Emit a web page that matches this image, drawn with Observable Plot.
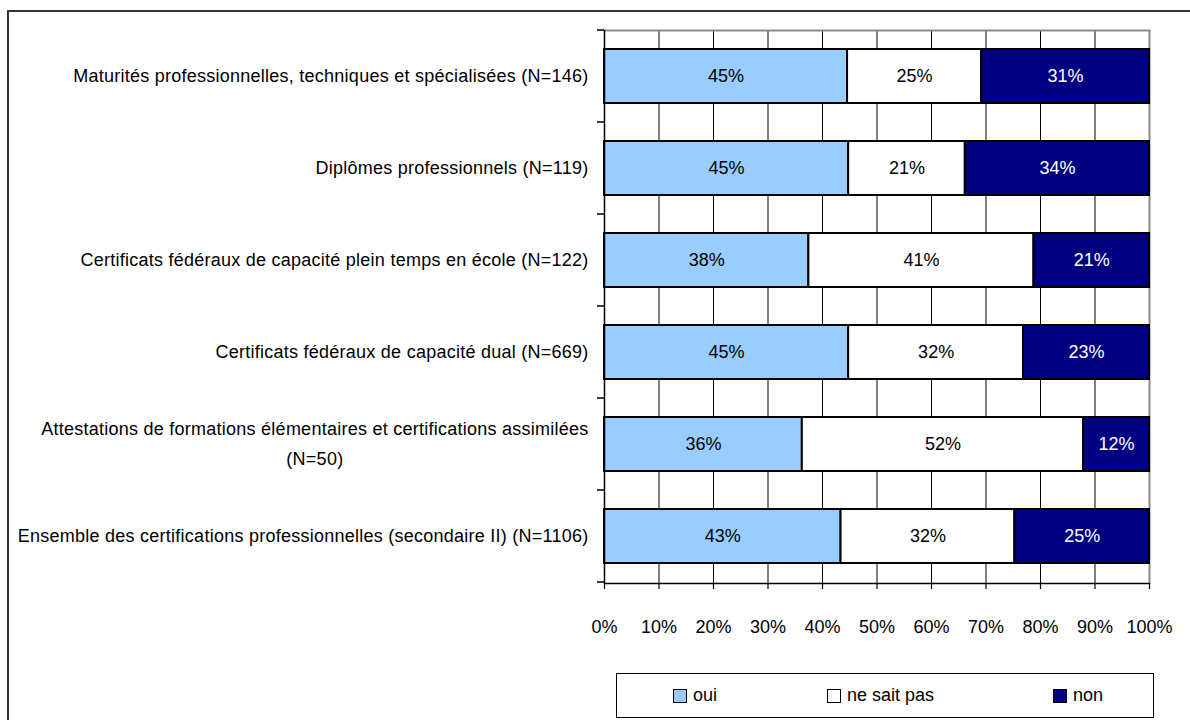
<!DOCTYPE html>
<html>
<head>
<meta charset="utf-8">
<script src="https://cdn.jsdelivr.net/npm/d3@7"></script>
<script src="https://cdn.jsdelivr.net/npm/@observablehq/plot@0.6"></script>
<style>
  body { margin: 0; background: #fff; font-family: "Liberation Sans", Arial, sans-serif; }
  #wrap { position: relative; width: 1190px; height: 720px; overflow: hidden; background: #fff; }
  #frame { position: absolute; left: 7px; top: 10px; width: 1400px; height: 900px;
           border-left: 2px solid #333; border-top: 2px solid #333; }
  #chart { position: absolute; left: 0; top: 0; }
  #legend { position: absolute; left: 616px; top: 673px; width: 538px; height: 45px;
            border: 1px solid #000; box-sizing: border-box; background: #fff; font-size: 18px; color: #000; }
  .item { position: absolute; top: 0; height: 43px; display: flex; align-items: center; white-space: nowrap; }
  .sw { display: inline-block; width: 12px; height: 12px; border: 1px solid #000; margin-right: 6px; }
</style>
</head>
<body>
<div id="wrap">
  <div id="frame"></div>
  <div id="chart"></div>
  <div id="legend"></div>
</div>
<script>
// ---- data ----
const categoryLines = [
  ["Maturités professionnelles, techniques et spécialisées (N=146)"],
  ["Diplômes professionnels (N=119)"],
  ["Certificats fédéraux de capacité plein temps en école (N=122)"],
  ["Certificats fédéraux de capacité dual (N=669)"],
  ["Attestations de formations élémentaires et certifications assimilées", "(N=50)"],
  ["Ensemble des certifications professionnelles (secondaire II) (N=1106)"]
];
const categories = categoryLines.map(l => l.join(" "));
const seriesNames = ["oui", "ne sait pas", "non"];
const seriesColors = ["#99ccff", "#ffffff", "#000080"];
const oui =       [44.6, 44.8, 37.5, 44.8, 36.3, 43.4];
const neSaitPas = [24.6, 21.4, 41.3, 32.1, 51.6, 31.9];
const non =       [30.8, 33.8, 21.2, 23.1, 12.1, 24.7];
const xTicks = [0, 10, 20, 30, 40, 50, 60, 70, 80, 90, 100];

// ---- build table ----
const seriesValues = [oui, neSaitPas, non];
const rows = [];
categories.forEach((cat, i) => {
  let acc = 0;
  seriesNames.forEach((s, k) => {
    const v = seriesValues[k][i];
    rows.push({cat, series: s, value: v, x1: acc, x2: acc + v});
    acc += v;
  });
});

const FONT = '"Liberation Sans", Arial, sans-serif';
const FS = 18;
const LS = 0.25; // letter spacing of the category labels
const ctx = document.createElement("canvas").getContext("2d");
ctx.font = FS + "px " + FONT;

const labelStyle = {frameAnchor: "left", fill: "#000", fontSize: FS};
const labelMarks = [];
categoryLines.forEach((lines, i) => {
  const cat = categories[i];
  if (lines.length === 1) {
    labelMarks.push(Plot.text([cat], {...labelStyle, y: d => d, text: () => lines[0], textAnchor: "end", dx: -16}));
  } else {
    const w = ctx.measureText(lines[0]).width + LS * lines[0].length;
    labelMarks.push(Plot.text([cat], {...labelStyle, y: d => d, text: () => lines[0], textAnchor: "end", dx: -16, dy: -15}));
    labelMarks.push(Plot.text([cat], {...labelStyle, y: d => d, text: () => lines[1], textAnchor: "middle", dx: -16 - w / 2, dy: 15}));
  }
});

const pct = d => Math.round(d.value) + "%";

const plot = Plot.plot({
  width: 1190,
  height: 720,
  marginLeft: 604,
  marginRight: 41,
  marginTop: 30,
  marginBottom: 137,
  style: {fontFamily: FONT, fontSize: FS + "px", background: "transparent", color: "#000"},
  x: {domain: [0, 100], axis: null},
  y: {domain: categories, paddingInner: 0.41, paddingOuter: 0.205, axis: null},
  color: {domain: seriesNames, range: seriesColors},
  marks: [
    Plot.ruleX(xTicks.slice(1, -1), {stroke: "#000", strokeWidth: 1}),
    Plot.ruleX([100], {stroke: "#8c8c8c", strokeWidth: 2}),
    Plot.frame({anchor: "top", stroke: "#8c8c8c", strokeWidth: 2}),
    Plot.barX(rows, {x1: "x1", x2: "x2", y: "cat", fill: "series", stroke: "#000", strokeWidth: 2}),
    Plot.text(rows.filter(d => d.series !== "non"), {x: d => (d.x1 + d.x2) / 2, y: "cat", text: pct, fill: "#000", fontSize: FS}),
    Plot.text(rows.filter(d => d.series === "non"), {x: d => (d.x1 + d.x2) / 2, y: "cat", text: pct, fill: "#fff", fontSize: FS}),
    Plot.axisX({ticks: xTicks, tickSize: 6, tickPadding: 31, tickFormat: d => d + "%", fontSize: FS, stroke: "#000", strokeWidth: 1.2}),
    Plot.frame({anchor: "bottom", stroke: "#000", strokeWidth: 1.5}),
    Plot.ruleX([0], {stroke: "#000", strokeWidth: 1.5}),
    ...labelMarks
  ]
});

// y-axis boundary ticks, positioned through the plot's own scales
const ys = plot.scale("y");
const xs = plot.scale("x");
const step = ys.step || ys.bandwidth / (1 - ys.paddingInner);
const x0 = xs.apply(0);
const svg = d3.select(plot);
const gap = (step - ys.bandwidth) / 2;
const bounds = categories.map(c => ys.apply(c) - gap);
bounds.push(ys.apply(categories[categories.length - 1]) + ys.bandwidth + gap);
svg.append("g").attr("stroke", "#000").attr("stroke-width", 1.5)
  .selectAll("line").data(bounds).join("line")
  .attr("x1", x0 - 7).attr("x2", x0).attr("y1", d => d).attr("y2", d => d);
// slightly wider letter spacing for the category labels, as in the reference
const labelTexts = new Set(categoryLines.flat());
svg.selectAll("text").filter(function () { return labelTexts.has(this.textContent); })
  .attr("letter-spacing", LS).style("letter-spacing", LS + "px");

document.getElementById("chart").appendChild(plot);

// legend
const legendLeft = [56, 210, 436];
const legend = d3.select("#legend");
seriesNames.forEach((s, k) => {
  const it = legend.append("div").attr("class", "item").style("left", legendLeft[k] + "px");
  it.append("span").attr("class", "sw").style("background", seriesColors[k]);
  it.append("span").text(s);
});
</script>
</body>
</html>
